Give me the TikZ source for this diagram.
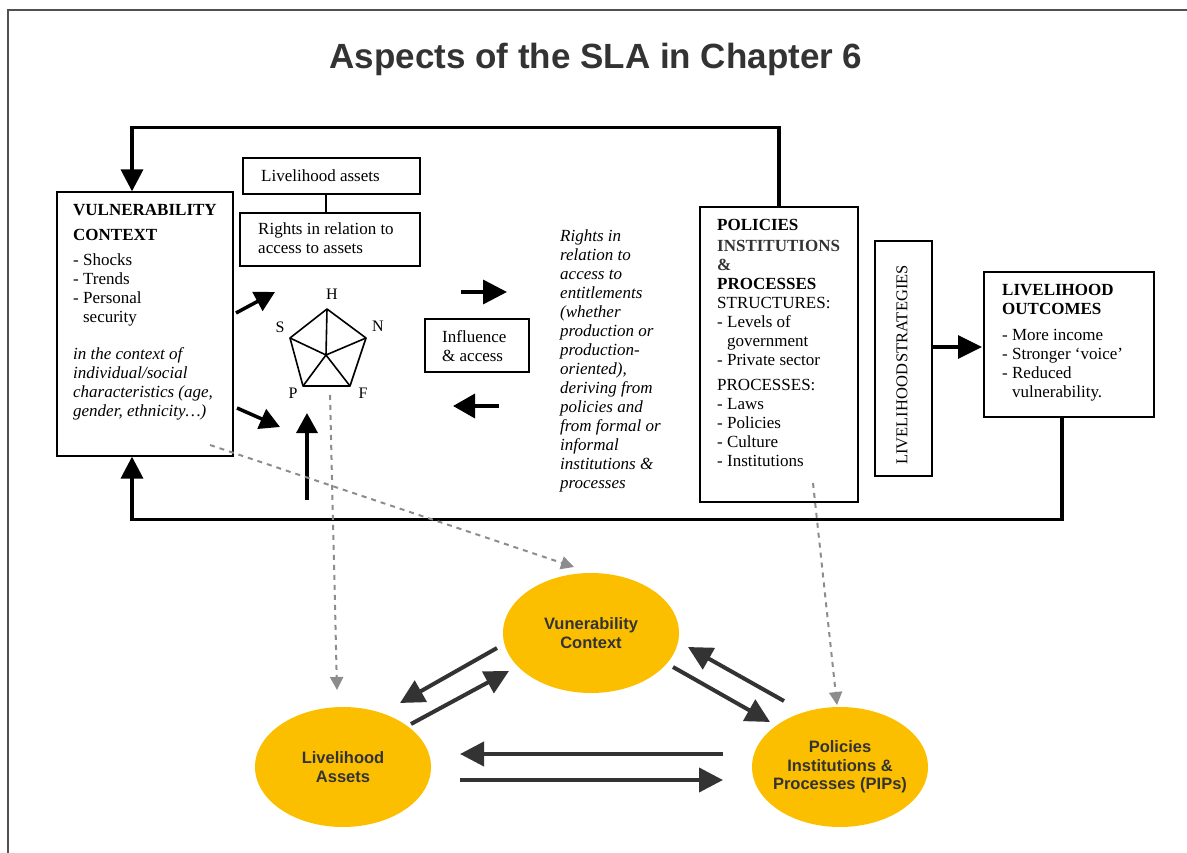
\documentclass[tikz,border=0pt]{standalone}
\usepackage{fontspec}
\setmainfont{Liberation Serif}
\newfontfamily\sansf{Liberation Sans}
\usetikzlibrary{arrows.meta,shapes.geometric}

\definecolor{ink}{HTML}{333333}
\definecolor{gold}{HTML}{FBBF00}
\definecolor{hintgray}{HTML}{8C8C8C}
\definecolor{framegray}{HTML}{505050}

\begin{document}
\begin{tikzpicture}[x=1pt,y=-1pt,
  box/.style={draw, line width=1.3pt, inner sep=0pt},
  txt/.style={inner sep=0pt, align=left, anchor=north west,
    font=\fontsize{17}{19}\selectfont},
  fb/.style={line width=3.5pt, -{Triangle[length=22pt,width=22pt]}},
  fat/.style={line width=3.5pt, -{Triangle[length=20pt,width=21pt]}},
  hub/.style={ellipse, fill=gold, minimum width=176pt, minimum height=120pt,
    inner xsep=-20pt, inner ysep=0pt, align=center, text=ink,
    font=\sansf\bfseries\fontsize{16.5}{18.3}\selectfont},
  link/.style={line width=4pt, draw=ink, -{Triangle[length=24pt,width=24pt]}},
  hint/.style={line width=2pt, draw=hintgray, dash pattern=on 5pt off 5pt,
    -{Triangle[length=13pt,width=13pt,fill=hintgray]}},
  lbl/.style={inner sep=0pt, font=\fontsize{16}{19}\selectfont}
]
\useasboundingbox (0,0) rectangle (1187,853);

% page frame (top and left edges)
\draw[line width=2.5pt, framegray] (8,853) -- (8,10) -- (1187,10);

% heading
\node[anchor=base, text=ink, font=\sansf\bfseries\fontsize{35}{40}\selectfont]
  (title) at (596,69) {Aspects of the SLA in Chapter 6};

% ---------- upper framework ----------
\node[box, minimum width=176pt, minimum height=264pt] (vc) at (145,324) {};
\node[txt] (vctext) at (73,202) {\strut\textbf{VULNERABILITY}\\[5.5pt]
  \textbf{CONTEXT}\\[6pt]
  - Shocks\\
  - Trends\\
  - Personal\\
  \phantom{- }security\\[18pt]
  \textit{in the context of}\\
  \textit{individual/social}\\
  \textit{characteristics (age,}\\
  \textit{gender, ethnicity…)}};

\node[box, minimum width=177pt, minimum height=36pt] (la) at (331.5,176) {};
\node[txt, anchor=base west] (latext) at (261,182) {Livelihood assets};
\node[box, minimum width=180pt, minimum height=53pt] (rights) at (330,239.5) {};
\node[txt] (rtext) at (258,221.5) {\strut Rights in relation to\\ access to assets};
\draw[line width=1.3pt] (la.south -| 326,0) -- (rights.north -| 326,0);

% asset pentagon
\coordinate (pH) at (327,309);
\coordinate (pN) at (366,338);
\coordinate (pF) at (350,386);
\coordinate (pP) at (303,386);
\coordinate (pS) at (290,338);
\coordinate (pC) at (326,355);
\draw[line width=1.6pt, line join=round] (pH) -- (pN) -- (pF) -- (pP) -- (pS) -- cycle;
\foreach \v in {pH,pN,pF,pP,pS} \draw[line width=1.6pt] (pC) -- (\v);
\node[lbl] (lH) at (332,294) {H};
\node[lbl] (lN) at (378,326) {N};
\node[lbl] (lF) at (363,393) {F};
\node[lbl] (lP) at (293,393) {P};
\node[lbl] (lS) at (280,327) {S};

% arrows around the pentagon
\coordinate (a1s) at (236,313); \coordinate (a1e) at (275,292);
\coordinate (a2s) at (237,408); \coordinate (a2e) at (280,427);
\coordinate (a3s) at (307,500); \coordinate (a3e) at (307,413);
\draw[fat] (a1s) -- (a1e);
\draw[fat] (a2s) -- (a2e);
\draw[fat] (a3s) -- (a3e);

% influence and access
\node[box, minimum width=104pt, minimum height=53pt] (infl) at (477,345.5) {};
\node[txt] (itext) at (442,328.5) {\strut Influence\\ \& access};
\coordinate (a4s) at (461,292); \coordinate (a4e) at (507,292);
\coordinate (a5s) at (499,406); \coordinate (a5e) at (453,406);
\draw[line width=3.5pt, -{Triangle[length=24pt,width=24pt]}] (a4s) -- (a4e);
\draw[line width=3.5pt, -{Triangle[length=22pt,width=24pt]}] (a5s) -- (a5e);

\node[txt, font=\fontsize{17}{19}\selectfont\itshape] (entitle) at (560,227.7)
  {\strut Rights in\\ relation to\\ access to\\
  entitlements\\ (whether\\ production or\\ production-\\ oriented),\\
  deriving from\\ policies and\\ from formal or\\ informal\\ institutions \&\\ processes};

% policies, institutions and processes
\node[box, minimum width=158pt, minimum height=295pt] (pol) at (779,354.5) {};
\node[txt] (poltext) at (717,217.2) {\strut\textbf{POLICIES}\\[1.7pt]
  \textcolor{ink}{\textbf{INSTITUTIONS}}\\
  \textcolor{ink}{\textbf{\&}}\\
  \textbf{PROCESSES}\\
  STRUCTURES:\\
  - Levels of\\
  \phantom{- }government\\
  - Private sector\\[6pt]
  PROCESSES:\\
  - Laws\\
  - Policies\\
  - Culture\\
  - Institutions};

% livelihood strategies and outcomes
\node[box, minimum width=57pt, minimum height=235pt] (ls) at (903.5,358.5) {};
\node[rotate=90, inner sep=0pt, font=\fontsize{16.5}{19}\selectfont] (lstext) at (902,365)
  {LIVELIHOOD\hspace{0.1em}STRATEGIES};
\node[box, minimum width=170pt, minimum height=145pt] (lo) at (1069,344.5) {};
\node[txt] (lotext) at (1002,282.2) {\strut\textbf{LIVELIHOOD}\\
  \textbf{OUTCOMES}\\[7pt]
  - More income\\
  - Stronger ‘voice’\\
  - Reduced\\
  \phantom{- }vulnerability.};
\coordinate (a6s) at (932,347); \coordinate (a6e) at (982,347);
\draw[line width=3.5pt, -{Triangle[length=24pt,width=23pt]}] (a6s) -- (a6e);

% feedback loops
\draw[fb] (pol.north) -- ++(0,-79) -| ([xshift=-13pt]vc.north);
\draw[fb] ([xshift=-7pt]lo.south) -- ++(0,102) -| ([xshift=-13pt]vc.south);

% ---------- lower triangle ----------
\node[hub] (evc) at (591,633) {Vunerability\\Context};
\node[hub] (ela) at (343,767) {Livelihood\\Assets};
\node[hub] (epip) at (840,767) {Policies\\Institutions \&\\Processes (PIPs)};

\coordinate (l1s) at (497,648); \coordinate (l1e) at (400,703);
\coordinate (l2s) at (411,724); \coordinate (l2e) at (509,671);
\coordinate (l3s) at (673,667); \coordinate (l3e) at (770,722);
\coordinate (l4s) at (784,701); \coordinate (l4e) at (688,647);
\coordinate (l5s) at (723,754); \coordinate (l5e) at (460,754);
\coordinate (l6s) at (460,780); \coordinate (l6e) at (723,780);
\draw[link] (l1s) -- (l1e);
\draw[link] (l2s) -- (l2e);
\draw[link] (l3s) -- (l3e);
\draw[link] (l4s) -- (l4e);
\draw[link] (l5s) -- (l5e);
\draw[link] (l6s) -- (l6e);

% dashed links from the framework to the triangle
\coordinate (h1s) at (330,395); \coordinate (h1e) at (337,690);
\coordinate (h2s) at (210,445); \coordinate (h2e) at (574,567);
\coordinate (h3s) at (813,483); \coordinate (h3e) at (837,705);
\draw[hint] (h1s) -- (h1e);
\draw[hint] (h2s) -- (h2e);
\draw[hint] (h3s) -- (h3e);
\end{tikzpicture}
\end{document}
